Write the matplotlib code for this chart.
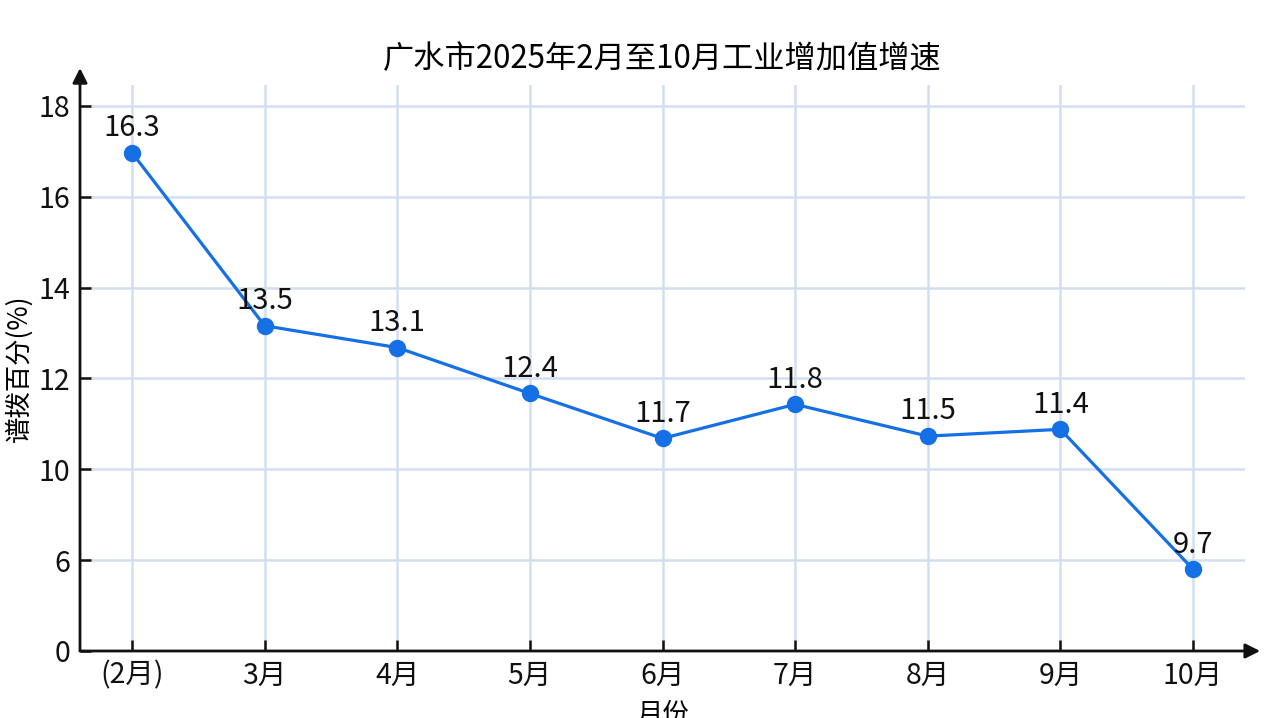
import numpy as np
import matplotlib
matplotlib.use("Agg")
import matplotlib.pyplot as plt

plt.rcParams['font.family'] = ['Noto Sans CJK SC', 'DejaVu Sans']

# dados
meses = ['(2月)', '3月', '4月', '5月', '6月', '7月', '8月', '9月', '10月']
rotulos = ['16.3', '13.5', '13.1', '12.4', '11.7', '11.8', '11.5', '11.4', '9.7']
# altura onde cada ponto aparece no eixo (não bate com o rótulo)
posicao_y = [16.97, 13.16, 12.68, 11.67, 10.68, 11.43, 10.73, 10.88, 5.4]
ticks_y = [0, 6, 10, 12, 14, 16, 18]

azul = '#1570e6'
grade = '#d3dff0'

# escala em pedaços: cada tick fica igualmente espaçado
idx = np.arange(len(ticks_y))
def frente(v):
    v = np.asarray(v, dtype=float)
    return np.interp(v, ticks_y + [20], list(idx) + [7])
def volta(u):
    u = np.asarray(u, dtype=float)
    return np.interp(u, list(idx) + [7], ticks_y + [20])

fig = plt.figure(figsize=(12.76, 7.18), dpi=100)
ax = fig.add_axes([80/1276, 1-651/718, (1245-80)/1276, (651-85)/718])

x = np.arange(len(meses))
ax.set_yscale('function', functions=(frente, volta))
ax.plot(x, posicao_y, color=azul, lw=2.3, marker='o', ms=11.5, zorder=3)

for xi, yi, t in zip(x, posicao_y, rotulos):
    ax.annotate(t, (xi, yi), xytext=(0, 7), textcoords='offset points',
                ha='center', va='bottom', fontsize=21, color='#111111')

ax.set_xlim(-0.392, 8.392)
ax.set_ylim(0, 18.46)
ax.set_xticks(x)
ax.set_xticklabels(meses, fontsize=20.5)
ax.set_yticks(ticks_y)
ax.set_yticklabels([str(t) for t in ticks_y], fontsize=20.5)
ax.tick_params(direction='in', length=8, width=1.8, pad=7, colors='#111111')

ax.grid(True, color=grade, lw=1.8)
ax.set_axisbelow(True)
for s in ['top', 'right', 'left', 'bottom']:
    ax.spines[s].set_visible(False)

# eixos com seta
ax.annotate('', xy=(0, 1.03), xytext=(0, 0), xycoords='axes fraction',
            arrowprops=dict(arrowstyle='-|>', color='#111111', lw=2,
                            mutation_scale=22, shrinkA=0, shrinkB=0))
ax.annotate('', xy=(1.013, 0), xytext=(0, 0), xycoords='axes fraction',
            arrowprops=dict(arrowstyle='-|>', color='#111111', lw=2,
                            mutation_scale=22, shrinkA=0, shrinkB=0))

ax.set_title('广水市2025年2月至10月工业增加值增速', fontsize=22.5, pad=12)
ax.set_xlabel('月份', fontsize=19, labelpad=7)
ax.set_ylabel('谱拨百分(%)', fontsize=19, labelpad=4)

fig.savefig('out.png', dpi=100, facecolor='white')
